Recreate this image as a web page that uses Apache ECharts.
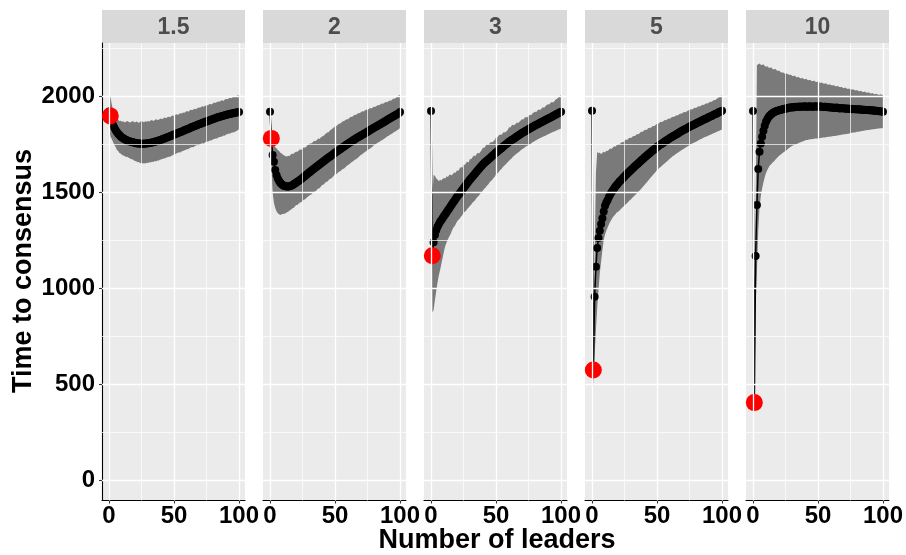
<!DOCTYPE html>
<html>
<head>
<meta charset="utf-8">
<script src="https://cdn.jsdelivr.net/npm/echarts@6/dist/echarts.min.js"></script>
<style>
  html, body { margin: 0; padding: 0; background: #ffffff; }
  #chart { width: 906px; height: 555px; }
</style>
</head>
<body>
<div id="chart"></div>
<script>
// Facet labels (the parameter value of each panel)
const panelLabels = ['1.5', '2', '3', '5', '10'];

// Number of leaders on the x axis, 0..100
const leaders = Array.from({ length: 101 }, (_, i) => i);

// Tick labels
const xTicks = [0, 50, 100];
const yTicks = [0, 500, 1000, 1500, 2000];

// Mean time to consensus per number of leaders, with the band around it, one set per panel
const mean15 = [1920,1897,1870,1851,1836,1823,1813,1804,1797,1790,
  1785,1781,1776,1773,1769,1767,1764,1762,1760,1758,
  1757,1755,1754,1753,1753,1752,1752,1752,1753,1754,
  1755,1756,1757,1759,1760,1762,1764,1766,1768,1771,
  1773,1776,1778,1781,1783,1786,1789,1791,1794,1797,
  1800,1802,1805,1808,1811,1813,1816,1819,1822,1825,
  1828,1830,1833,1836,1839,1842,1844,1847,1850,1853,
  1855,1858,1861,1863,1866,1868,1871,1873,1876,1878,
  1881,1883,1885,1888,1890,1892,1894,1896,1898,1900,
  1902,1904,1906,1907,1909,1910,1912,1913,1914,1916,1917];
const upper15 = [2005,2000,1962,1930,1906,1893,1881,1877,1870,1872,
  1866,1869,1863,1866,1871,1867,1862,1865,1870,1866,
  1863,1868,1865,1860,1866,1871,1866,1864,1869,1867,
  1870,1868,1873,1876,1871,1874,1879,1877,1875,1881,
  1884,1880,1886,1889,1885,1891,1893,1890,1896,1899,
  1897,1903,1906,1902,1908,1911,1909,1915,1913,1919,
  1922,1919,1925,1929,1926,1931,1934,1932,1938,1941,
  1939,1945,1947,1944,1950,1953,1951,1957,1959,1956,
  1963,1966,1964,1969,1972,1970,1976,1978,1975,1982,
  1985,1983,1988,1991,1989,1994,1997,1995,2001,2004,2003];
const lower15 = [1835,1790,1779,1763,1747,1736,1721,1715,1704,1701,
  1694,1691,1688,1683,1684,1679,1677,1672,1671,1666,
  1663,1661,1656,1657,1651,1653,1649,1651,1650,1653,
  1652,1656,1654,1659,1657,1662,1660,1665,1664,1669,
  1670,1673,1676,1675,1680,1682,1685,1684,1690,1692,
  1698,1697,1703,1705,1708,1707,1713,1715,1718,1720,
  1725,1724,1730,1733,1735,1734,1740,1743,1745,1744,
  1750,1753,1755,1754,1760,1763,1764,1766,1770,1769,
  1775,1777,1780,1779,1784,1787,1788,1790,1795,1794,
  1800,1801,1805,1804,1809,1811,1812,1815,1818,1822,1827];

const mean2 = [1919,1780,1694,1659,1616,1590,1572,1558,1548,1541,
  1536,1533,1531,1530,1530,1531,1533,1536,1540,1545,
  1549,1554,1559,1564,1569,1574,1580,1585,1591,1596,
  1602,1607,1613,1618,1623,1629,1634,1639,1644,1650,
  1655,1660,1665,1670,1675,1680,1685,1690,1695,1700,
  1705,1710,1715,1720,1724,1729,1734,1738,1743,1748,
  1752,1757,1761,1766,1770,1774,1779,1783,1787,1791,
  1795,1799,1803,1807,1811,1815,1819,1823,1827,1831,
  1835,1839,1843,1847,1851,1855,1859,1863,1867,1871,
  1875,1879,1883,1887,1891,1895,1899,1903,1907,1911,1917];
const upper2 = [2000,1850,1772,1745,1734,1729,1720,1714,1705,1702,
  1695,1691,1687,1686,1690,1689,1696,1702,1699,1706,
  1711,1710,1716,1723,1720,1726,1734,1731,1738,1746,
  1749,1755,1754,1761,1768,1765,1772,1779,1777,1784,
  1790,1793,1799,1805,1810,1812,1820,1826,1830,1837,
  1842,1845,1850,1856,1857,1862,1869,1870,1876,1880,
  1880,1886,1892,1891,1897,1903,1901,1907,1912,1911,
  1917,1921,1920,1925,1930,1928,1933,1938,1936,1941,
  1945,1944,1949,1953,1952,1957,1961,1960,1965,1969,
  1968,1973,1977,1976,1982,1987,1986,1993,1998,2003,2008];
const lower2 = [1840,1650,1500,1445,1418,1401,1391,1386,1382,1385,
  1387,1388,1391,1396,1399,1405,1409,1416,1418,1425,
  1433,1434,1440,1447,1448,1455,1461,1463,1470,1477,
  1482,1486,1489,1497,1502,1505,1512,1519,1521,1529,
  1537,1539,1546,1553,1555,1562,1569,1571,1578,1585,
  1593,1594,1600,1607,1609,1615,1621,1624,1630,1636,
  1642,1646,1652,1657,1661,1667,1672,1676,1682,1688,
  1695,1698,1704,1709,1713,1719,1724,1727,1733,1738,
  1745,1748,1753,1758,1761,1766,1770,1774,1779,1783,
  1790,1793,1798,1802,1805,1810,1814,1818,1823,1828,1834];

const mean3 = [1922,1170,1240,1278,1302,1320,1334,1346,1356,1366,
  1376,1386,1396,1406,1416,1426,1436,1446,1456,1466,
  1476,1485,1494,1503,1512,1521,1530,1539,1548,1557,
  1566,1574,1582,1590,1598,1606,1614,1622,1630,1638,
  1646,1652,1658,1664,1670,1676,1682,1688,1694,1700,
  1706,1712,1717,1723,1728,1734,1740,1745,1751,1756,
  1762,1767,1771,1776,1780,1785,1790,1794,1799,1803,
  1808,1812,1816,1820,1824,1828,1832,1835,1839,1843,
  1847,1851,1854,1858,1861,1865,1868,1872,1875,1879,
  1882,1886,1889,1893,1897,1900,1904,1908,1911,1915,1919];
const upper3 = [2005,1480,1590,1586,1571,1566,1557,1565,1561,1570,
  1574,1571,1583,1579,1589,1592,1587,1597,1603,1601,
  1614,1611,1624,1631,1627,1644,1641,1653,1659,1655,
  1674,1671,1683,1691,1687,1697,1705,1701,1711,1719,
  1733,1730,1741,1749,1746,1753,1761,1758,1765,1772,
  1786,1784,1795,1800,1797,1805,1813,1810,1817,1824,
  1838,1836,1847,1851,1848,1855,1863,1860,1867,1873,
  1879,1878,1887,1891,1888,1897,1903,1900,1909,1915,
  1918,1917,1926,1930,1927,1936,1942,1939,1947,1953,
  1957,1956,1965,1969,1967,1975,1982,1986,1993,2000,2006];
const lower3 = [1835,875,888,940,985,1030,1068,1096,1130,1160,
  1195,1222,1238,1256,1270,1282,1298,1314,1322,1334,
  1348,1356,1362,1372,1380,1392,1398,1404,1414,1420,
  1430,1436,1446,1452,1460,1470,1476,1484,1494,1500,
  1510,1518,1524,1534,1540,1550,1558,1564,1574,1580,
  1592,1598,1604,1614,1620,1628,1636,1642,1650,1656,
  1664,1670,1676,1684,1690,1696,1702,1706,1712,1718,
  1724,1728,1732,1738,1742,1746,1750,1754,1760,1763,
  1768,1770,1775,1778,1782,1784,1789,1791,1794,1797,
  1802,1804,1808,1810,1814,1816,1820,1822,1826,1828,1832];

const mean5 = [1924,576,957,1113,1210,1262,1300,1335,1365,1400,
  1430,1446,1460,1475,1488,1500,1510,1520,1530,1538,
  1546,1554,1561,1568,1575,1582,1589,1596,1602,1609,
  1615,1622,1628,1635,1641,1647,1653,1660,1666,1672,
  1678,1684,1690,1696,1701,1707,1713,1718,1724,1729,
  1735,1740,1745,1750,1754,1759,1764,1768,1773,1777,
  1782,1786,1790,1794,1798,1802,1806,1810,1814,1818,
  1822,1826,1829,1833,1837,1840,1844,1847,1851,1854,
  1858,1861,1864,1868,1871,1874,1878,1881,1884,1887,
  1891,1894,1897,1900,1904,1907,1910,1914,1917,1920,1924];
const upper5 = [2005,700,1150,1600,1711,1703,1707,1697,1705,1711,
  1707,1716,1715,1721,1727,1725,1733,1739,1737,1744,
  1749,1748,1755,1761,1759,1768,1774,1772,1779,1783,
  1782,1789,1793,1792,1799,1803,1802,1810,1815,1814,
  1821,1825,1824,1831,1835,1834,1841,1845,1844,1851,
  1857,1856,1862,1866,1865,1871,1875,1874,1879,1883,
  1882,1888,1892,1891,1897,1900,1899,1905,1909,1908,
  1914,1917,1916,1921,1925,1927,1931,1930,1935,1939,
  1938,1943,1947,1946,1951,1955,1954,1959,1963,1962,
  1967,1971,1970,1976,1980,1979,1986,1991,1995,1999,2006];
const lower5 = [1835,482,650,780,900,992,1080,1140,1200,1252,
  1280,1300,1316,1332,1346,1358,1370,1378,1386,1394,
  1398,1404,1411,1418,1424,1431,1438,1444,1451,1458,
  1464,1471,1478,1484,1491,1498,1505,1512,1520,1527,
  1535,1543,1551,1559,1567,1575,1583,1591,1599,1607,
  1615,1621,1627,1633,1639,1645,1651,1657,1663,1669,
  1675,1681,1687,1691,1696,1701,1705,1710,1714,1719,
  1723,1728,1732,1737,1741,1746,1749,1753,1756,1760,
  1763,1767,1770,1774,1777,1781,1784,1787,1790,1793,
  1796,1799,1802,1805,1808,1811,1814,1817,1820,1823,1826];

const mean10 = [1922,406,1168,1434,1621,1711,1754,1789,1820,1846,
  1867,1880,1891,1899,1906,1911,1916,1919,1922,1924,
  1926,1928,1930,1931,1933,1935,1936,1938,1940,1941,
  1942,1941,1943,1944,1943,1945,1946,1944,1945,1946,
  1947,1945,1944,1946,1947,1945,1944,1946,1947,1946,
  1945,1947,1946,1944,1943,1945,1944,1942,1943,1941,
  1940,1941,1939,1938,1940,1939,1937,1936,1938,1937,
  1935,1936,1934,1935,1933,1934,1932,1933,1931,1932,
  1932,1930,1931,1929,1930,1928,1929,1927,1928,1926,
  1927,1925,1926,1924,1925,1923,1922,1921,1921,1920,1919];
const upper10 = [2005,470,1400,2160,2166,2170,2163,2161,2165,2156,
  2152,2155,2149,2146,2150,2141,2138,2142,2135,2130,
  2133,2126,2121,2124,2119,2115,2118,2113,2109,2112,
  2106,2103,2107,2100,2097,2101,2094,2092,2095,2089,
  2087,2090,2084,2082,2085,2079,2077,2081,2075,2073,
  2076,2070,2068,2071,2066,2064,2067,2061,2059,2062,
  2057,2055,2058,2052,2050,2054,2048,2046,2049,2043,
  2041,2044,2039,2037,2040,2035,2033,2036,2031,2029,
  2032,2027,2025,2028,2023,2021,2024,2019,2017,2020,
  2015,2013,2016,2011,2009,2012,2008,2006,2009,2007,2006];
const lower10 = [1835,340,900,1080,1300,1420,1480,1520,1550,1578,
  1600,1615,1628,1640,1646,1654,1660,1668,1675,1682,
  1690,1694,1700,1705,1710,1715,1720,1726,1731,1737,
  1740,1744,1747,1750,1752,1755,1758,1761,1764,1767,
  1769,1771,1772,1774,1775,1776,1777,1778,1779,1780,
  1780,1781,1782,1783,1784,1785,1786,1787,1788,1789,
  1790,1791,1792,1793,1794,1795,1796,1798,1799,1800,
  1801,1802,1803,1804,1806,1808,1809,1810,1811,1812,
  1814,1815,1816,1817,1818,1820,1821,1822,1823,1824,
  1825,1826,1827,1828,1829,1830,1831,1832,1833,1833,1834];

const meanSets = [mean15, mean2, mean3, mean5, mean10];
const upperSets = [upper15, upper2, upper3, upper5, upper10];
const lowerSets = [lower15, lower2, lower3, lower5, lower10];

// ---- layout and styling ----
const FONT = "'Liberation Sans', Arial, Helvetica, sans-serif";
const PANEL_LEFT = 102, PANEL_STEP = 161, PANEL_W = 143;
const PANEL_TOP = 43, PANEL_H = 457.5;
const STRIP_TOP = 10, STRIP_H = 33;
const X_MIN = -5.4, X_MAX = 104.6;
const Y_MIN = -103, Y_MAX = 2276;
const PANEL_BG = '#EBEBEB', STRIP_BG = '#D9D9D9', RIBBON = '#7A7A7A';

const chart = echarts.init(document.getElementById('chart'), null, { renderer: 'canvas' });

const grids = [], xAxes = [], yAxes = [], series = [], graphics = [];

function gridLines() {
  const items = [];
  [0, 50, 100].forEach(v => items.push({ xAxis: v, lineStyle: { width: 1.3 } }));
  [25, 75].forEach(v => items.push({ xAxis: v, lineStyle: { width: 0.7 } }));
  [0, 500, 1000, 1500, 2000].forEach(v => items.push({ yAxis: v, lineStyle: { width: 1.3 } }));
  [250, 750, 1250, 1750, 2250].forEach(v => items.push({ yAxis: v, lineStyle: { width: 0.7 } }));
  return items;
}

function ribbonRenderer(hi, lo) {
  return function (params, api) {
    if (params.dataIndex !== 0) return null;
    const pts = [];
    for (let i = 0; i < leaders.length; i++) pts.push(api.coord([leaders[i], hi[i]]));
    for (let i = leaders.length - 1; i >= 0; i--) pts.push(api.coord([leaders[i], lo[i]]));
    return { type: 'polygon', shape: { points: pts }, style: { fill: RIBBON } };
  };
}

panelLabels.forEach((label, p) => {
  const left = PANEL_LEFT + p * PANEL_STEP;
  grids.push({
    left: left, top: PANEL_TOP, width: PANEL_W, height: PANEL_H,
    show: true, backgroundColor: PANEL_BG, borderWidth: 0
  });
  xAxes.push({
    gridIndex: p, type: 'value', min: X_MIN, max: X_MAX,
    axisLine: { show: true, onZero: false, lineStyle: { color: '#000', width: 1.1 } },
    axisTick: { show: true, customValues: xTicks, length: 3, lineStyle: { color: '#333', width: 1.1 } },
    axisLabel: { show: true, customValues: xTicks, margin: 4, color: '#000',
      fontSize: 24, fontWeight: 'bold', fontFamily: FONT, formatter: v => String(v) },
    splitLine: { show: false }
  });
  yAxes.push({
    gridIndex: p, type: 'value', min: Y_MIN, max: Y_MAX,
    axisLine: { show: p === 0, onZero: false, lineStyle: { color: '#000', width: 1.1 } },
    axisTick: { show: p === 0, customValues: yTicks, length: 3, lineStyle: { color: '#333', width: 1.1 } },
    axisLabel: { show: p === 0, customValues: yTicks, margin: 7, color: '#000',
      fontSize: 24, fontWeight: 'bold', fontFamily: FONT, formatter: v => String(v) },
    splitLine: { show: false }
  });

  const mean = meanSets[p], hi = upperSets[p], lo = lowerSets[p];

  // white grid lines on the grey panel
  series.push({
    type: 'line', xAxisIndex: p, yAxisIndex: p, data: [], z: 1, silent: true,
    markLine: {
      silent: true, symbol: ['none', 'none'], label: { show: false },
      lineStyle: { color: '#FFFFFF', type: 'solid' }, emphasis: { disabled: true },
      animation: false, data: gridLines()
    }
  });

  // spread band
  series.push({
    type: 'custom', xAxisIndex: p, yAxisIndex: p, z: 2, silent: true,
    data: leaders.map((x, i) => [x, lo[i], hi[i]]),
    encode: { x: 0, y: [1, 2] },
    renderItem: ribbonRenderer(hi, lo)
  });

  // mean line with points
  series.push({
    type: 'line', xAxisIndex: p, yAxisIndex: p, z: 3, silent: true,
    data: leaders.map((x, i) => [x, mean[i]]),
    symbol: 'circle', symbolSize: 8, showAllSymbol: true,
    itemStyle: { color: '#000000' },
    lineStyle: { color: '#000000', width: 1.5 }
  });

  // single leader highlighted in red
  series.push({
    type: 'scatter', xAxisIndex: p, yAxisIndex: p, z: 4, silent: true,
    data: [[leaders[1], mean[1]]],
    symbolSize: 17, itemStyle: { color: '#FF0000', opacity: 1 }
  });

  // facet strip
  graphics.push({
    type: 'rect', left: left, top: STRIP_TOP, silent: true,
    shape: { width: PANEL_W, height: STRIP_H }, style: { fill: STRIP_BG }
  });
  graphics.push({
    type: 'text', x: left + PANEL_W / 2, y: STRIP_TOP + STRIP_H / 2 + 1, silent: true,
    style: { text: label, fill: '#4D4D4D', font: 'bold 23px ' + FONT,
      textAlign: 'center', textVerticalAlign: 'middle' }
  });
});

// axis titles
graphics.push({
  type: 'text', x: 497, y: 541, silent: true,
  style: { text: 'Number of leaders', fill: '#000', font: 'bold 27px ' + FONT,
    textAlign: 'center', textVerticalAlign: 'middle' }
});
graphics.push({
  type: 'text', x: 24, y: 271, rotation: Math.PI / 2, silent: true,
  style: { text: 'Time to consensus', fill: '#000', font: 'bold 27px ' + FONT,
    textAlign: 'center', textVerticalAlign: 'middle' }
});

chart.setOption({
  animation: false,
  backgroundColor: '#FFFFFF',
  textStyle: { fontFamily: FONT },
  grid: grids,
  xAxis: xAxes,
  yAxis: yAxes,
  series: series,
  graphic: graphics
});
</script>
</body>
</html>
